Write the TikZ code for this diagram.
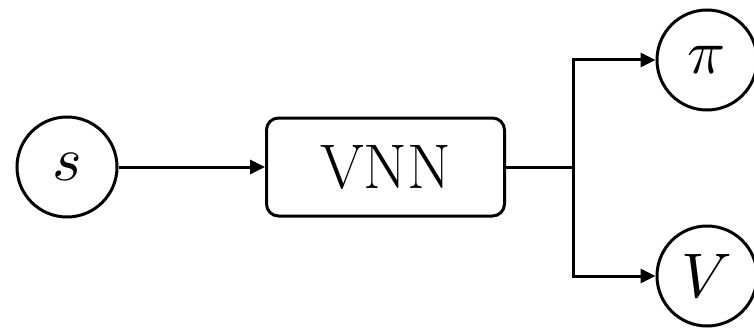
\documentclass[tikz,border=0pt]{standalone}
\usepackage{graphicx}
\usetikzlibrary{arrows.meta}
\newcommand{\bigsym}[1]{\scalebox{6.3}{\fontsize{10}{12}\selectfont$#1$}}
\begin{document}
\begin{tikzpicture}[x=1pt,y=1pt,
  line width=3pt,
  every node/.style={inner sep=0pt, font=\fontsize{63}{70}\selectfont},
  var/.style={circle, draw, minimum size=100pt},
  netbox/.style={draw, rounded corners=12pt, minimum width=238pt, minimum height=98pt},
  arr/.style={-{Triangle[length=15pt,width=14pt]}}]
\useasboundingbox (0,0) rectangle (754,330);
\node[var] (s) at (67,163) {\bigsym{s}};
\node[netbox] (vnn) at (385.5,163) {VNN};
\node[var] (pi) at (707,270) {\bigsym{\pi}};
\node[var] (v) at (707,54) {\bigsym{V}};
\coordinate (split) at (573,163);
\draw[arr] (s) -- (vnn);
\draw (vnn.east) -- (split);
\draw[arr] (split) |- (pi.west);
\draw[arr] (split) |- (v.west);
\end{tikzpicture}
\end{document}
